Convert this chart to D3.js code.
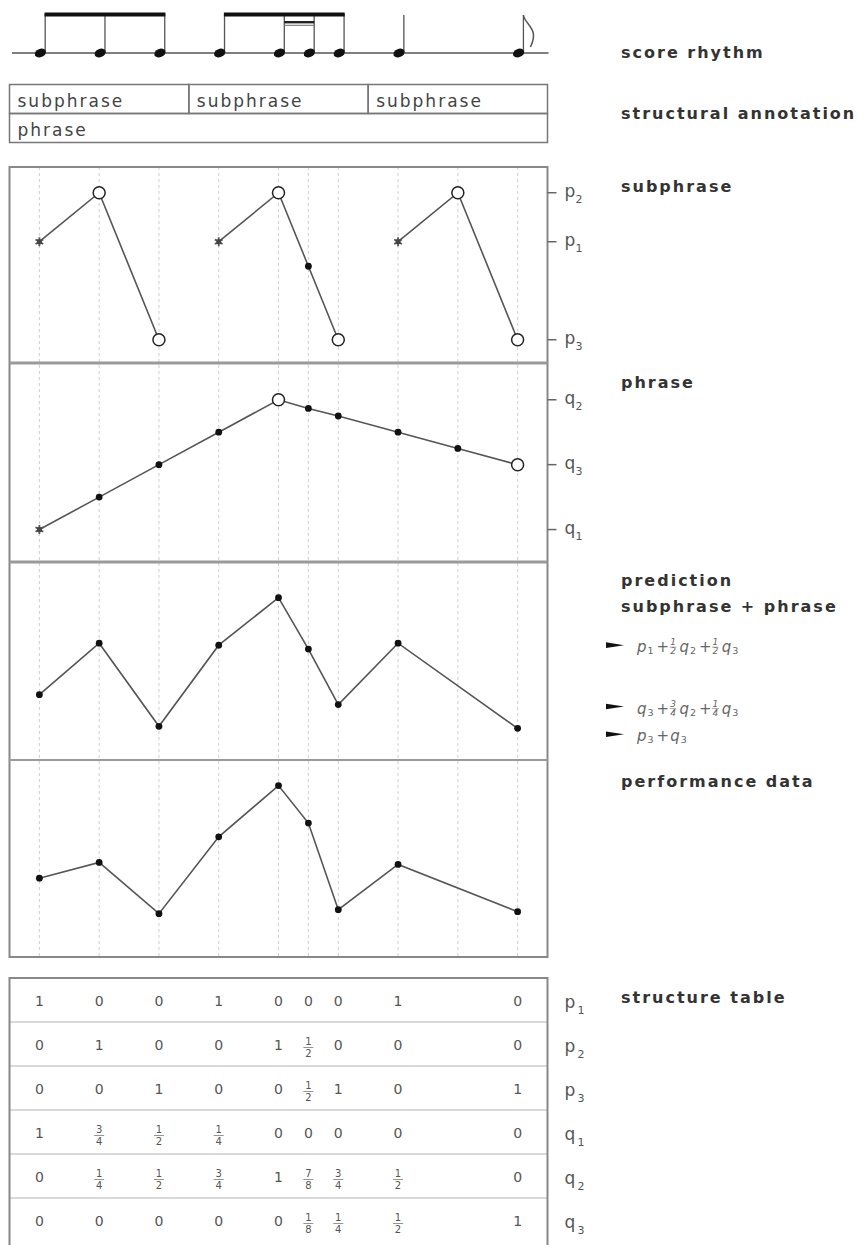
<!DOCTYPE html>
<html>
<head>
<meta charset="utf-8">
<script src="https://cdn.jsdelivr.net/npm/d3@7"></script>
<style>
  body { margin: 0; background: #fff; }
  svg { display: block; }
  .title { font-family: 'DejaVu Sans', sans-serif; font-weight: bold; font-size: 16px; letter-spacing: 2px; fill: #333; }
  .annot { font-family: 'DejaVu Sans', sans-serif; font-size: 17px; letter-spacing: 2px; fill: #444; }
  .tick { font-family: 'DejaVu Sans', sans-serif; font-size: 17px; fill: #555; }
  .tick-sub { font-family: 'DejaVu Sans', sans-serif; font-size: 11px; fill: #555; }
  .cell { font-family: 'DejaVu Sans', sans-serif; font-size: 14px; fill: #555; }
  .frac { font-family: 'DejaVu Sans', sans-serif; font-size: 10px; fill: #555; }
  .form { font-family: 'DejaVu Sans', sans-serif; font-style: italic; font-size: 15px; fill: #666; }
  .form-sub { font-family: 'DejaVu Sans', sans-serif; font-size: 9.5px; fill: #666; }
  .form-frac { font-family: 'DejaVu Sans', sans-serif; font-style: italic; font-size: 9px; fill: #666; }
</style>
</head>
<body>
<svg id="chart" width="859" height="1245"></svg>
<script>
// ---- data ----
// note onsets in eighth-note units, and the grid (includes the beat at 7 with no onset)
const noteTimes = [0, 1, 2, 3, 4, 4.5, 5, 6, 8];
const gridTimes = [0, 1, 2, 3, 4, 4.5, 5, 6, 7, 8];

// score rhythm
const beamGroups = [[0, 1, 2], [3, 4, 4.5, 5]];
const sixteenthBeams = [[4, 4.5]];
const quarterNotes = [6];
const flaggedEighths = [8];

// structural annotation
const subphraseSpans = [[-0.5, 2.5], [2.5, 5.5], [5.5, 8.5]];
const phraseSpans = [[-0.5, 8.5]];

// subphrase level curve (p1 = start, p2 = peak, p3 = end)
const subphraseTicks = [
  { sym: 'p', sub: '2', v: 0.3 },
  { sym: 'p', sub: '1', v: 0.1 },
  { sym: 'p', sub: '3', v: -0.3 }
];
const subphraseGroups = [
  [{ t: 0, v: 0.1, m: 'star' }, { t: 1, v: 0.3, m: 'open' }, { t: 2, v: -0.3, m: 'open' }],
  [{ t: 3, v: 0.1, m: 'star' }, { t: 4, v: 0.3, m: 'open' }, { t: 4.5, v: 0.0, m: 'dot' }, { t: 5, v: -0.3, m: 'open' }],
  [{ t: 6, v: 0.1, m: 'star' }, { t: 7, v: 0.3, m: 'open' }, { t: 8, v: -0.3, m: 'open' }]
];

// phrase level curve
const phraseTicks = [
  { sym: 'q', sub: '2', v: 0.3 },
  { sym: 'q', sub: '3', v: 0.0 },
  { sym: 'q', sub: '1', v: -0.3 }
];
const phraseTimes = [0, 1, 2, 3, 4, 4.5, 5, 6, 7, 8];
const phraseValues = [-0.3, -0.15, 0.0, 0.15, 0.3, 0.26, 0.225, 0.15, 0.075, 0.0];
const phraseMarks = ['star', 'dot', 'dot', 'dot', 'open', 'dot', 'dot', 'dot', 'dot', 'open'];

const predictionValues = [0.33, 0.59, 0.17, 0.58, 0.82, 0.56, 0.28, 0.59, 0.16];
const performanceValues = [0.40, 0.48, 0.22, 0.61, 0.87, 0.68, 0.24, 0.47, 0.23];

// formulas pointing at prediction levels
const predictionLevels = [0.58, 0.27, 0.13];
const predictionFormulas = [
  [{ s: 'p', sub: '1' }, { s: '+ ' }, { frac: ['1', '2'] }, { s: 'q', sub: '2' }, { s: '+ ' }, { frac: ['1', '2'] }, { s: 'q', sub: '3' }],
  [{ s: 'q', sub: '3' }, { s: '+ ' }, { frac: ['3', '4'] }, { s: 'q', sub: '2' }, { s: '+ ' }, { frac: ['1', '4'] }, { s: 'q', sub: '3' }],
  [{ s: 'p', sub: '3' }, { s: '+' }, { s: 'q', sub: '3' }]
];

// structure table
const tableRows = [
  { sym: 'p', sub: '1' }, { sym: 'p', sub: '2' }, { sym: 'p', sub: '3' },
  { sym: 'q', sub: '1' }, { sym: 'q', sub: '2' }, { sym: 'q', sub: '3' }
];
const tableValues = [
  ['1', '0', '0', '1', '0', '0', '0', '1', '0'],
  ['0', '1', '0', '0', '1', '1/2', '0', '0', '0'],
  ['0', '0', '1', '0', '0', '1/2', '1', '0', '1'],
  ['1', '3/4', '1/2', '1/4', '0', '0', '0', '0', '0'],
  ['0', '1/4', '1/2', '3/4', '1', '7/8', '3/4', '1/2', '0'],
  ['0', '0', '0', '0', '0', '1/8', '1/4', '1/2', '1']
];

// ---- layout ----
const svg = d3.select('#chart');
const boxL = 9.5, boxR = 547.5;
const titleX = 621;

const x = d3.scaleLinear().domain([-0.5, 8.5]).range([boxL, boxR]);

const panels = [
  { top: 167, bottom: 363 },
  { top: 363, bottom: 562 },
  { top: 562, bottom: 760 },
  { top: 760, bottom: 957 }
];
const ySub = d3.scaleLinear().domain([-0.395, 0.405]).range([panels[0].bottom, panels[0].top]);
const yPhr = d3.scaleLinear().domain([-0.45, 0.47]).range([panels[1].bottom, panels[1].top]);
const yPred = d3.scaleLinear().domain([0, 1]).range([panels[2].bottom, panels[2].top]);
const yPerf = d3.scaleLinear().domain([0, 1]).range([panels[3].bottom, panels[3].top]);

/* titles on the right */
const titles = [
  ['score rhythm', 58], ['structural annotation', 119], ['subphrase', 192], ['phrase', 388],
  ['prediction', 586], ['subphrase + phrase', 612], ['performance data', 787], ['structure table', 1003]
];
svg.append('g').selectAll('text')
  .data(titles).enter()
  .append('text')
  .attr('class', 'title')
  .attr('x', titleX)
  .attr('y', d => d[1])
  .text(d => d[0]);

/* score rhythm */
const staffY = 53, beamTop = 12.5, stemDx = 5.8;
const rhythm = svg.append('g');
rhythm.append('line')
  .attr('x1', 12).attr('x2', boxR + 1)
  .attr('y1', staffY).attr('y2', staffY)
  .attr('stroke', '#555').attr('stroke-width', 1.3);

// stems
const stemTops = noteTimes.map(t => quarterNotes.includes(t) || flaggedEighths.includes(t) ? 15 : beamTop + 1);
rhythm.selectAll('.stem')
  .data(noteTimes).enter()
  .append('line')
  .attr('class', 'stem')
  .attr('x1', t => x(t) + stemDx).attr('x2', t => x(t) + stemDx)
  .attr('y1', staffY - 1)
  .attr('y2', (t, i) => stemTops[i])
  .attr('stroke', '#555').attr('stroke-width', 1.3);

// beams
rhythm.selectAll('.beam')
  .data(beamGroups).enter()
  .append('rect')
  .attr('class', 'beam')
  .attr('x', g => x(g[0]) + stemDx - 0.6)
  .attr('width', g => x(g[g.length - 1]) - x(g[0]) + 1.2)
  .attr('y', beamTop)
  .attr('height', 4)
  .attr('fill', '#111');

sixteenthBeams.forEach(b => {
  rhythm.append('rect')
    .attr('x', x(b[0]) + stemDx).attr('width', x(b[1]) - x(b[0]))
    .attr('y', 21).attr('height', 2.4)
    .attr('fill', '#222');
  rhythm.append('line')
    .attr('x1', x(b[0]) + stemDx).attr('x2', x(b[1]) + stemDx)
    .attr('y1', 25.3).attr('y2', 25.3)
    .attr('stroke', '#777').attr('stroke-width', 1.1);
});

// flag on the last eighth
flaggedEighths.forEach(t => {
  const sx = x(t) + stemDx;
  rhythm.append('path')
    .attr('d', `M${sx},15 C${sx + 1},22 ${sx + 9},26 ${sx + 10},34 C${sx + 10.5},39 ${sx + 9},43 ${sx + 7},47`)
    .attr('fill', 'none').attr('stroke', '#555').attr('stroke-width', 1.5);
});

// note heads
rhythm.selectAll('.head')
  .data(noteTimes).enter()
  .append('ellipse')
  .attr('class', 'head')
  .attr('transform', t => `translate(${x(t) + 1},${staffY}) rotate(-22)`)
  .attr('rx', 5.8).attr('ry', 4.1)
  .attr('fill', '#111');

/* structural annotation */
const annot = svg.append('g');
const annotRows = [{ spans: subphraseSpans, label: 'subphrase', top: 84.5, bottom: 113.5 },
                   { spans: phraseSpans, label: 'phrase', top: 113.5, bottom: 142.5 }];
annotRows.forEach(row => {
  annot.selectAll(null)
    .data(row.spans).enter()
    .append('rect')
    .attr('x', s => x(s[0])).attr('width', s => x(s[1]) - x(s[0]))
    .attr('y', row.top).attr('height', row.bottom - row.top)
    .attr('fill', 'none').attr('stroke', '#777').attr('stroke-width', 1.5);
  annot.selectAll(null)
    .data(row.spans).enter()
    .append('text')
    .attr('class', 'annot')
    .attr('x', s => x(s[0]) + 8)
    .attr('y', row.bottom - 7)
    .text(row.label);
});

/* panels: grid */
const plot = svg.append('g');
plot.selectAll('.grid')
  .data(gridTimes).enter()
  .append('line')
  .attr('class', 'grid')
  .attr('x1', t => x(t)).attr('x2', t => x(t))
  .attr('y1', panels[0].top).attr('y2', panels[3].bottom)
  .attr('stroke', '#cfcfcf').attr('stroke-width', 1)
  .attr('stroke-dasharray', '3,3');

// frame and separators
plot.append('rect')
  .attr('x', boxL).attr('y', panels[0].top)
  .attr('width', boxR - boxL).attr('height', panels[3].bottom - panels[0].top)
  .attr('fill', 'none').attr('stroke', '#888').attr('stroke-width', 2);
plot.selectAll('.sep')
  .data([panels[1].top, panels[2].top, panels[3].top]).enter()
  .append('line')
  .attr('class', 'sep')
  .attr('x1', boxL).attr('x2', boxR)
  .attr('y1', d => d).attr('y2', d => d)
  .attr('stroke', '#9a9a9a')
  .attr('stroke-width', (d, i) => i < 2 ? 3 : 2);

// right ticks
function drawTicks(ticks, y) {
  const g = plot.append('g');
  g.selectAll('line').data(ticks).enter()
    .append('line')
    .attr('x1', boxR).attr('x2', boxR + 9)
    .attr('y1', d => y(d.v)).attr('y2', d => y(d.v))
    .attr('stroke', '#666').attr('stroke-width', 1.5);
  g.selectAll('.tick').data(ticks).enter()
    .append('text').attr('class', 'tick')
    .attr('x', boxR + 17).attr('y', d => y(d.v) + 4)
    .text(d => d.sym);
  g.selectAll('.tick-sub').data(ticks).enter()
    .append('text').attr('class', 'tick-sub')
    .attr('x', boxR + 28).attr('y', d => y(d.v) + 10)
    .text(d => d.sub);
}
drawTicks(subphraseTicks, ySub);
drawTicks(phraseTicks, yPhr);

// markers
function drawMarks(g, pts) {
  g.selectAll(null).data(pts.filter(p => p.m === 'star')).enter()
    .append('path')
    .attr('transform', p => `translate(${p.x},${p.y})`)
    .attr('d', d3.symbol(d3.symbolAsterisk, 55)())
    .attr('fill', 'none').attr('stroke', '#555').attr('stroke-width', 1.8);
  g.selectAll(null).data(pts.filter(p => p.m === 'star')).enter()
    .append('rect')
    .attr('x', p => p.x - 2.4).attr('y', p => p.y - 2.4)
    .attr('width', 4.8).attr('height', 4.8)
    .attr('fill', '#444');
  g.selectAll(null).data(pts.filter(p => p.m === 'open')).enter()
    .append('circle')
    .attr('cx', p => p.x).attr('cy', p => p.y).attr('r', 6)
    .attr('fill', '#fff').attr('stroke', '#222').attr('stroke-width', 1.5);
  g.selectAll(null).data(pts.filter(p => p.m === 'dot')).enter()
    .append('circle')
    .attr('cx', p => p.x).attr('cy', p => p.y).attr('r', 3.4)
    .attr('fill', '#111');
}

const line = d3.line().x(p => p.x).y(p => p.y);

function drawCurve(pts) {
  const g = plot.append('g');
  g.append('path')
    .attr('d', line(pts))
    .attr('fill', 'none').attr('stroke', '#555').attr('stroke-width', 1.6);
  drawMarks(g, pts);
}

subphraseGroups.forEach(grp => {
  drawCurve(grp.map(d => ({ x: x(d.t), y: ySub(d.v), m: d.m })));
});
drawCurve(phraseTimes.map((t, i) => ({ x: x(t), y: yPhr(phraseValues[i]), m: phraseMarks[i] })));
drawCurve(noteTimes.map((t, i) => ({ x: x(t), y: yPred(predictionValues[i]), m: 'dot' })));
drawCurve(noteTimes.map((t, i) => ({ x: x(t), y: yPerf(performanceValues[i]), m: 'dot' })));

/* formulas next to the prediction panel */
function drawFormula(g, tokens, x0, yBase) {
  let cx = x0;
  tokens.forEach(tk => {
    if (tk.frac) {
      const num = g.append('text').attr('class', 'form-frac')
        .attr('x', cx).attr('y', yBase - 7).text(tk.frac[0]);
      const den = g.append('text').attr('class', 'form-frac')
        .attr('x', cx).attr('y', yBase + 2).text(tk.frac[1]);
      const w = Math.max(num.node().getComputedTextLength(), den.node().getComputedTextLength());
      g.append('line')
        .attr('x1', cx - 0.5).attr('x2', cx + w + 0.5)
        .attr('y1', yBase - 5).attr('y2', yBase - 5)
        .attr('stroke', '#888').attr('stroke-width', 0.7);
      cx += w + 3.5;
    } else {
      const t = g.append('text').attr('class', 'form')
        .attr('x', cx).attr('y', yBase).text(tk.s);
      cx += t.node().getComputedTextLength() + 1;
      if (tk.sub) {
        const s = g.append('text').attr('class', 'form-sub')
          .attr('x', cx).attr('y', yBase + 2).text(tk.sub);
        cx += s.node().getComputedTextLength() + 3;
      }
    }
  });
}
const formulas = svg.append('g');
predictionLevels.forEach((lv, i) => {
  const yy = yPred(lv);
  formulas.append('path')
    .attr('d', `M606,${yy - 2.8}L624,${yy}L606,${yy + 2.8}Z`)
    .attr('fill', '#111');
  drawFormula(formulas, predictionFormulas[i], 637, yy + 7);
});

/* structure table */
const tableTop = 978, tableBottom = 1242;
const rowY = d3.scaleBand().domain(d3.range(tableRows.length)).range([tableTop, tableBottom]);
const table = svg.append('g');
table.selectAll('.rowsep')
  .data(d3.range(1, tableRows.length)).enter()
  .append('line')
  .attr('x1', boxL).attr('x2', boxR)
  .attr('y1', i => rowY(i)).attr('y2', i => rowY(i))
  .attr('stroke', '#ccc').attr('stroke-width', 1.5);
table.append('path')
  .attr('d', `M${boxL},1246V${tableTop}H${boxR}V1246`)
  .attr('fill', 'none').attr('stroke', '#888').attr('stroke-width', 2);

tableValues.forEach((row, r) => {
  const cy = rowY(r) + rowY.bandwidth() / 2;
  row.forEach((val, c) => {
    const cx = x(noteTimes[c]);
    if (val.includes('/')) {
      const [n, d] = val.split('/');
      table.append('text').attr('class', 'frac').attr('text-anchor', 'middle')
        .attr('x', cx).attr('y', cy + 1).text(n);
      table.append('line')
        .attr('x1', cx - 5).attr('x2', cx + 5)
        .attr('y1', cy + 3.5).attr('y2', cy + 3.5)
        .attr('stroke', '#888').attr('stroke-width', 0.9);
      table.append('text').attr('class', 'frac').attr('text-anchor', 'middle')
        .attr('x', cx).attr('y', cy + 13).text(d);
    } else {
      table.append('text').attr('class', 'cell').attr('text-anchor', 'middle')
        .attr('x', cx).attr('y', cy + 6).text(val);
    }
  });
  table.append('text').attr('class', 'tick')
    .attr('x', boxR + 17).attr('y', cy + 8).text(tableRows[r].sym);
  table.append('text').attr('class', 'tick-sub')
    .attr('x', boxR + 30).attr('y', cy + 14).text(tableRows[r].sub);
});
</script>
</body>
</html>
